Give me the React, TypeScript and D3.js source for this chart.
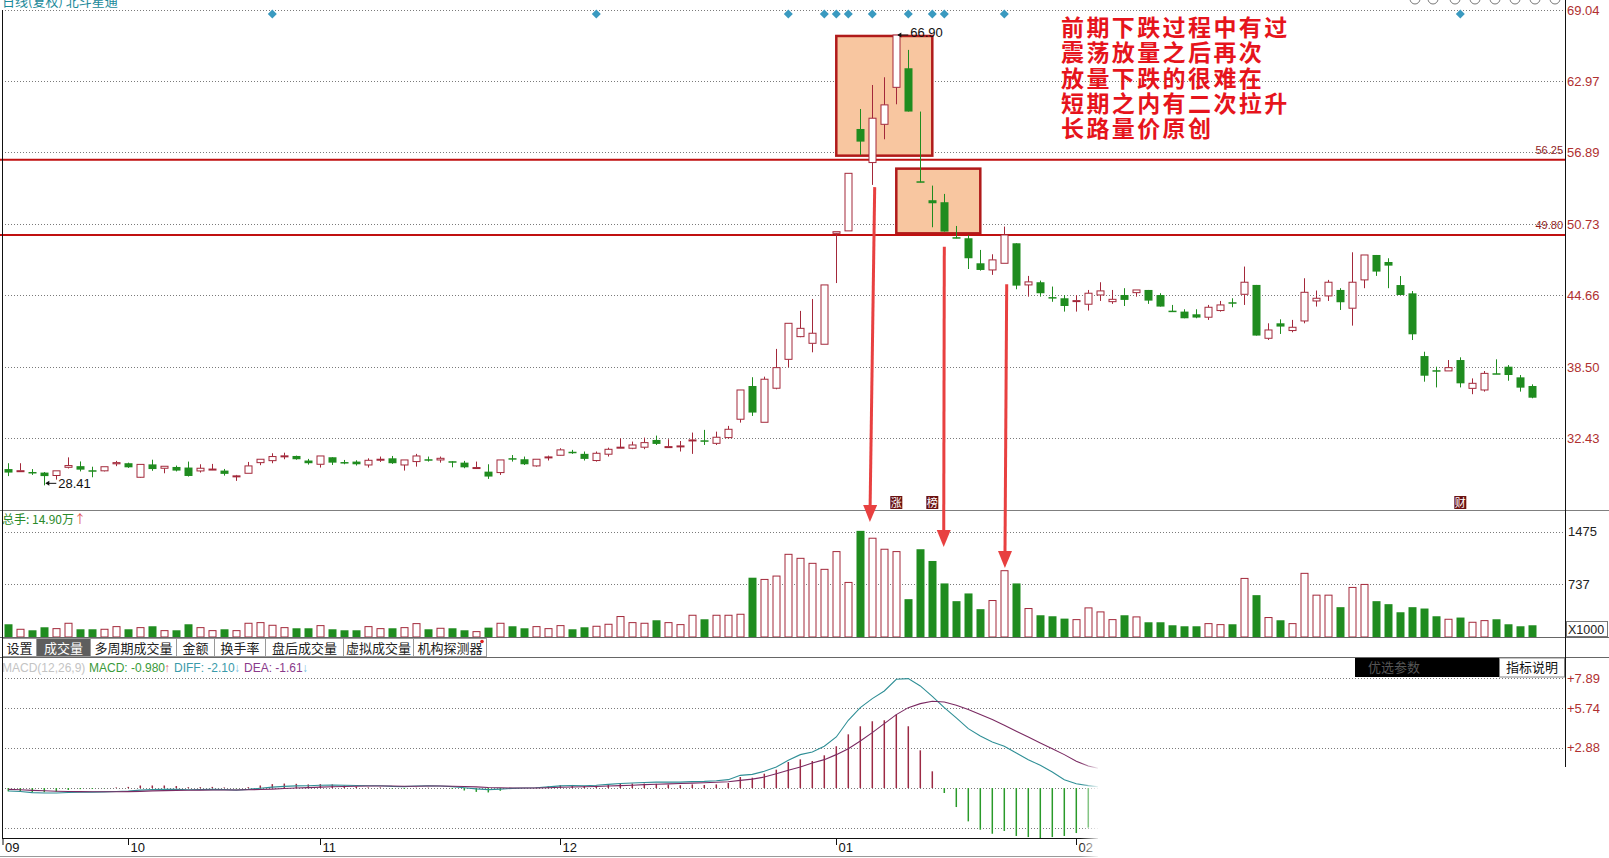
import React, { useEffect } from 'react';
import * as d3 from 'd3';

// ---------- DATA ----------
const opens = [
  29.8, 29.65, 29.55, 29.5, 29.25, 29.95, 30.05, 29.7, 29.65, 30.25,
  30.3, 29.1, 30.2, 29.87, 29.98, 29.93, 29.64, 29.78, 29.67, 29.2,
  29.44, 30.35, 30.52, 30.92, 30.92, 30.53, 30.21, 30.81, 30.4, 30.44,
  30.15, 30.6, 30.72, 30.15, 30.44, 30.64, 30.58, 30.47, 30.35, 29.92,
  29.58, 29.5, 30.73, 30.64, 30.07, 30.81, 30.98, 31.28, 31.1, 30.53,
  31.07, 31.64, 31.58, 31.67, 32.29, 31.7, 31.75, 32.27, 32.26, 32.0,
  32.49, 34.06, 36.9, 33.8, 36.71, 39.18, 41.12, 40.55, 40.47, 49.95,
  50.16, 58.87, 56.0, 59.27, 62.43, 64.06, 54.4, 52.78, 52.61, 49.62,
  49.53, 47.39, 46.82, 47.39, 49.1, 45.54, 45.77, 44.5, 44.4, 44.17,
  43.89, 44.68, 44.11, 44.68, 44.88, 45.11, 44.68, 43.34, 43.26, 43.03,
  42.78, 43.35, 44.06, 44.74, 45.54, 40.98, 42.26, 41.64, 42.46, 44.17,
  44.6, 45.11, 43.55, 45.97, 48.1, 47.5, 45.53, 44.82, 39.46, 38.25,
  38.19, 39.12, 36.7, 36.56, 37.99, 38.55, 37.64, 36.9,
];
const highs = [
  30.3, 30.3, 29.8, 29.55, 29.65, 30.8, 30.45, 30.0, 30.0, 30.5,
  30.35, 30.2, 30.6, 30.04, 30.1, 30.44, 30.21, 30.24, 29.81, 29.3,
  30.41, 30.64, 31.15, 31.2, 30.95, 30.67, 30.92, 30.81, 30.58, 30.55,
  30.72, 30.87, 30.92, 30.58, 31.1, 30.87, 30.87, 30.47, 30.5, 30.44,
  30.21, 30.58, 31.0, 30.87, 30.64, 30.95, 31.58, 31.44, 31.3, 31.3,
  31.63, 32.43, 32.15, 32.49, 32.66, 32.35, 32.2, 32.92, 33.15, 33.0,
  33.49, 36.56, 37.65, 37.7, 40.07, 42.26, 43.32, 44.34, 45.54, 50.09,
  55.08, 60.58, 62.63, 63.29, 66.9, 65.63, 60.36, 54.03, 53.32, 50.58,
  49.81, 48.53, 48.16, 50.53, 49.1, 46.31, 45.91, 45.4, 44.68, 44.68,
  45.11, 45.77, 45.11, 45.26, 45.11, 45.11, 44.83, 43.83, 43.46, 43.46,
  43.83, 44.17, 44.4, 47.11, 45.54, 42.26, 42.6, 42.55, 46.11, 45.06,
  45.97, 45.26, 48.33, 48.1, 48.1, 47.82, 46.3, 45.02, 39.83, 38.55,
  39.12, 39.35, 37.55, 38.18, 39.18, 38.69, 37.84, 37.04,
];
const lows = [
  29.2, 29.62, 29.3, 28.41, 28.9, 29.85, 29.6, 29.1, 29.6, 30.05,
  29.9, 29.05, 29.65, 29.44, 29.6, 29.16, 29.5, 29.73, 29.24, 28.79,
  29.44, 30.13, 30.3, 30.64, 30.6, 30.18, 29.93, 30.15, 30.21, 30.1,
  29.93, 30.41, 30.24, 29.67, 30.01, 30.44, 30.35, 29.95, 29.87, 29.87,
  28.96, 29.3, 30.44, 30.15, 30.01, 30.53, 30.95, 31.1, 30.53, 30.44,
  30.87, 31.58, 31.5, 31.5, 31.86, 31.67, 31.3, 31.1, 31.86, 31.86,
  32.43, 33.77, 34.34, 33.8, 36.62, 38.5, 41.07, 39.78, 40.47, 45.7,
  50.16, 56.65, 54.09, 57.99, 60.98, 60.36, 54.32, 50.47, 50.1, 49.53,
  46.9, 46.76, 46.4, 47.39, 45.17, 44.54, 44.54, 44.1, 43.26, 43.26,
  43.35, 44.17, 43.92, 43.74, 44.54, 43.92, 43.69, 43.26, 42.69, 42.69,
  42.55, 43.26, 43.63, 43.83, 41.21, 40.84, 41.35, 41.49, 42.26, 43.69,
  44.17, 43.4, 42.06, 45.26, 46.31, 45.26, 44.68, 40.83, 37.27, 36.78,
  38.19, 36.78, 36.2, 36.42, 37.92, 37.35, 36.42, 35.85,
];
const closes = [
  29.5, 29.66, 29.5, 29.2, 29.65, 30.1, 29.75, 29.6, 30.0, 30.35,
  29.95, 30.2, 29.8, 30.04, 29.67, 29.21, 29.87, 29.8, 29.39, 29.22,
  30.07, 30.64, 30.87, 30.93, 30.64, 30.3, 30.92, 30.35, 30.38, 30.21,
  30.55, 30.64, 30.3, 30.58, 30.92, 30.6, 30.72, 30.44, 29.95, 29.93,
  29.16, 30.58, 30.7, 30.21, 30.64, 30.84, 31.44, 31.25, 30.67, 31.15,
  31.49, 31.67, 31.86, 32.06, 31.95, 31.72, 31.78, 32.29, 32.23, 32.52,
  33.2, 36.56, 34.63, 37.48, 38.47, 42.26, 41.83, 41.41, 45.54, 50.09,
  55.08, 57.79, 59.79, 60.93, 66.9, 60.36, 54.35, 52.52, 50.1, 49.6,
  47.82, 46.82, 47.68, 49.81, 45.48, 45.8, 44.83, 44.48, 43.74, 44.2,
  44.83, 45.03, 44.31, 44.26, 45.11, 44.2, 43.69, 43.32, 42.69, 42.75,
  43.63, 43.83, 44.05, 45.77, 41.21, 41.69, 41.98, 41.92, 44.91, 44.4,
  45.77, 44.06, 45.77, 48.1, 46.68, 47.19, 44.68, 41.32, 37.78, 38.2,
  38.47, 37.13, 37.13, 37.98, 37.97, 37.84, 36.76, 35.9,
];
// volume in thousands of lots
const volumes = [
  178, 108, 94, 136, 117, 192, 108, 108, 108, 145,
  108, 131, 150, 89, 94, 178, 131, 89, 108, 89,
  192, 201, 164, 131, 122, 122, 159, 108, 94, 94,
  145, 117, 122, 131, 187, 108, 122, 122, 94, 75,
  131, 192, 150, 122, 145, 117, 159, 108, 136, 150,
  178, 286, 201, 192, 234, 201, 173, 304, 248, 304,
  304, 318, 829, 805, 852, 1156, 1100, 1030, 946, 1194,
  763, 1484, 1381, 1227, 1194, 529, 1227, 1063, 749, 501,
  609, 389, 510, 927, 749, 398, 304, 290, 257, 243,
  407, 351, 243, 304, 281, 206, 206, 164, 150, 150,
  187, 173, 178, 819, 585, 272, 234, 187, 890, 585,
  585, 417, 693, 735, 501, 459, 346, 417, 398, 290,
  248, 272, 206, 229, 248, 178, 150, 164,
];
const macdDiff = [
  -0.22, -0.25, -0.33, -0.36, -0.36, -0.32, -0.3, -0.3, -0.28, -0.25,
  -0.22, -0.15, -0.12, -0.1, -0.1, -0.13, -0.12, -0.1, -0.12, -0.15,
  -0.1, -0.02, 0.06, 0.12, 0.15, 0.16, 0.2, 0.22, 0.2, 0.18,
  0.16, 0.16, 0.12, 0.1, 0.14, 0.15, 0.14, 0.1, 0.02, -0.06,
  -0.12, -0.08, -0.03, 0.0, 0.02, 0.08, 0.15, 0.18, 0.16, 0.2,
  0.26, 0.32, 0.36, 0.4, 0.42, 0.42, 0.42, 0.46, 0.48, 0.52,
  0.6, 0.91, 0.98, 1.2, 1.51, 1.99, 2.4, 2.59, 3.0, 3.67,
  4.87, 5.78, 6.43, 6.98, 7.82, 7.87, 7.34, 6.59, 5.78, 5.04,
  4.27, 3.74, 3.31, 3.0, 2.52, 2.04, 1.63, 1.15, 0.6, 0.31,
  0.17, 0.07,
];
const macdDea = [
  -0.1, -0.13, -0.17, -0.2, -0.23, -0.25, -0.26, -0.27, -0.27, -0.27,
  -0.26, -0.24, -0.21, -0.19, -0.17, -0.16, -0.15, -0.14, -0.14, -0.14,
  -0.13, -0.11, -0.08, -0.04, 0.0, 0.03, 0.06, 0.09, 0.11, 0.13,
  0.14, 0.14, 0.14, 0.13, 0.13, 0.14, 0.14, 0.13, 0.11, 0.08,
  0.04, 0.02, 0.0, 0.0, 0.0, 0.02, 0.05, 0.07, 0.09, 0.11,
  0.14, 0.17, 0.2, 0.24, 0.27, 0.3, 0.32, 0.35, 0.38, 0.41,
  0.45, 0.55, 0.64, 0.79, 1.03, 1.27, 1.51, 1.8, 2.04, 2.4,
  2.83, 3.38, 3.98, 4.63, 5.28, 5.78, 6.07, 6.24, 6.19, 5.95,
  5.64, 5.28, 4.92, 4.51, 4.08, 3.67, 3.24, 2.83, 2.4, 1.92,
  1.58, 1.39,
];
const macdHist = [
  -0.24, -0.24, -0.3, -0.3, -0.26, -0.14, -0.08, -0.06, -0.02, 0.04,
  0.08, 0.18, 0.18, 0.18, 0.14, 0.06, 0.06, 0.08, 0.04, -0.02,
  0.06, 0.18, 0.28, 0.32, 0.3, 0.26, 0.28, 0.26, 0.18, 0.1,
  0.04, 0.04, -0.04, -0.06, 0.02, 0.02, 0.0, -0.06, -0.18, -0.28,
  -0.32, -0.2, -0.06, 0.0, 0.04, 0.12, 0.2, 0.22, 0.14, 0.18,
  0.24, 0.3, 0.32, 0.32, 0.3, 0.24, 0.2, 0.26, 0.22, 0.26,
  0.36, 0.79, 0.74, 1.03, 1.32, 1.87, 2.06, 1.94, 2.35, 3.0,
  3.86, 4.44, 4.8, 4.87, 5.28, 4.44, 2.71, 1.2, -0.36, -1.37,
  -2.4, -3.0, -3.29, -3.09, -3.45, -3.53, -3.65, -3.53, -3.45, -3.24,
  -2.85,
];
const priceTicks = [69.04, 62.97, 56.89, 50.73, 44.66, 38.5, 32.43];
const volTicks = [1475, 737];
const macdTicks = [7.89, 5.74, 2.88, 0, -2.88];
const macdTickLabels = ['+7.89', '+5.74', '+2.88'];
const monthIdx = [0, 10, 26, 46, 69, 89];
const monthLabels = ['09', '10', '11', '12', '01', '02'];
const markerIdx = [22, 49, 65, 68, 69, 70, 72, 75, 77, 78, 83, 121];
const levelLines = [56.25, 49.8];
const badgeIdx = [74, 77, 121];
const badgeText = ['涨', '榜', '财'];
const boxIdxFrom = [69, 74];
const boxIdxTo = [77, 81];
const boxPriceTop = [66.82, 55.48];
const boxPriceBottom = [56.59, 49.95];
const arrowFromIdx = [72.2, 78.0, 83.2];
const arrowFromPrice = [53.9, 48.8, 45.6];
const arrowToIdx = [71.8, 77.95, 83.05];
const arrowToVol = [1608, 1259, 965];
const noteLines = [
  '前期下跌过程中有过',
  '震荡放量之后再次',
  '放量下跌的很难在',
  '短期之内有二次拉升',
  '长路量价原创',
];
const tabLabels = ['设置', '成交量', '多周期成交量', '金额', '换手率', '盘后成交量', '虚拟成交量', '机构探测器'];
const tabWidths = [34, 54, 86, 38, 51, 78, 70, 73];
const macdHeadText = ['MACD(12,26,9)', 'MACD: -0.980', '↑', 'DIFF: -2.10', '↓', 'DEA: -1.61', '↓'];
const macdHeadX = [2, 89, 164, 174, 234, 244, 302];
const macdHeadColor = ['#c4c4c4', '#3a9a3a', '#e06a6a', '#3a9aaa', '#7ac0e0', '#8a3a8a', '#7ac0e0'];
const highMark = { idx: 74, value: 66.9 };
const lowMark = { idx: 3, value: 28.41 };

const UP = '#a3283a';
const DOWN = '#1f8c1f';
const NUM = 'Liberation Sans, Arial, sans-serif';
const CJK = 'Noto Sans CJK SC, sans-serif';

export default function App() {
  useEffect(() => {
    document.body.style.margin = '0';
    document.body.style.overflow = 'hidden';
  }, []);

  const n = opens.length;
  const x = d3.scaleLinear().domain([0, n - 1]).range([8.3, 8.3 + 12 * (n - 1)]);
  const yP = d3.scaleLinear().domain([32.43, 69.04]).range([438.3, 10]);
  const yV = d3.scaleLinear().domain([0, 1475]).range([637, 531.5]);
  const yM = d3.scaleLinear().domain([0, 7.89]).range([788, 678.3]);
  const bw = 8;
  const axisX = 1565;
  const leftX = 2;

  const diffLine = d3.line<number>().x((_, i) => x(i)).y((d) => yM(d));
  const deaLine = d3.line<number>().x((_, i) => x(i)).y((d) => yM(d));

  const tabX: number[] = [];
  tabWidths.reduce((acc, w) => { tabX.push(acc); return acc + w; }, 2);

  return (
    <svg width={1609} height={858} style={{ position: 'fixed', left: 0, top: 0, background: '#fff' }}>
      <defs>
        <linearGradient id="axfade" x1="0" y1="0" x2="0" y2="1">
          <stop offset="0" stopColor="#000" />
          <stop offset="1" stopColor="#fff" />
        </linearGradient>
        <linearGradient id="wfade" x1="0" y1="0" x2="1" y2="0">
          <stop offset="0" stopColor="#fff" stopOpacity="0" />
          <stop offset="1" stopColor="#fff" stopOpacity="1" />
        </linearGradient>
      </defs>
      <rect x={0} y={0} width={1609} height={858} fill="#fff" />

      {/* header (partly cut off at the top, as in the source) */}
      <text x={2} y={6} fontSize={13} fill="#1b8a9a" fontFamily={CJK}>日线(复权) 北斗星通</text>
      {[1415, 1433, 1455, 1475, 1495, 1515, 1535, 1555].map((cx, k) => (
        <circle key={k} cx={cx} cy={-1} r={5} fill="none" stroke="#777" strokeWidth={1} />
      ))}

      {/* price gridlines */}
      {priceTicks.map((t) => (
        <g key={t}>
          <line x1={leftX} x2={axisX} y1={Math.round(yP(t)) + 0.5} y2={Math.round(yP(t)) + 0.5} stroke="#7a7a7a" strokeDasharray="1 2" />
          <text x={axisX + 2} y={yP(t) + 4.5} fontSize={13} fill="#b03030" fontFamily={NUM}>{t.toFixed(2)}</text>
        </g>
      ))}

      {/* annotation boxes */}
      {boxIdxFrom.map((f, k) => (
        <rect key={k} x={x(f)} y={yP(boxPriceTop[k])} width={x(boxIdxTo[k]) - x(f)}
          height={yP(boxPriceBottom[k]) - yP(boxPriceTop[k])} fill="#f8c6a0" stroke="#b01a1a" strokeWidth={2.5} />
      ))}

      {/* level lines */}
      {levelLines.map((v) => (
        <g key={v}>
          <line x1={0} x2={axisX} y1={yP(v)} y2={yP(v)} stroke="#c01010" strokeWidth={2} />
          <text x={axisX - 2} y={yP(v) - 6} fontSize={11} textAnchor="end" fill="#8e1c1c" fontFamily={NUM}>{v.toFixed(2)}</text>
        </g>
      ))}

      {/* markers */}
      {markerIdx.map((i) => {
        const cx = x(i), cy = 14;
        return <polygon key={i} points={`${cx},${cy - 4.5} ${cx + 4.5},${cy} ${cx},${cy + 4.5} ${cx - 4.5},${cy}`} fill="#3a9ac0" />;
      })}

      {/* candles */}
      {opens.map((o, i) => {
        const c = closes[i], h = highs[i], l = lows[i];
        const up = c >= o;
        const cx = Math.round(x(i)) + 0.5;
        const top = yP(Math.max(o, c)), bot = yP(Math.min(o, c));
        const bh = Math.max(1, bot - top);
        if (up) {
          return (
            <g key={i}>
              <line x1={cx} x2={cx} y1={yP(h)} y2={top} stroke={UP} />
              <line x1={cx} x2={cx} y1={top + bh} y2={yP(l)} stroke={UP} />
              <rect x={cx - bw / 2 + 0.5} y={top} width={bw - 1} height={bh} fill="#fff" stroke={UP} strokeWidth={1} />
            </g>
          );
        }
        return (
          <g key={i}>
            <line x1={cx} x2={cx} y1={yP(h)} y2={yP(l)} stroke={DOWN} />
            <rect x={cx - bw / 2} y={top} width={bw} height={Math.max(1.5, bh)} fill={DOWN} />
          </g>
        );
      })}

      {/* high / low marks */}
      <g fontFamily={NUM} fontSize={13} fill="#111">
        <line x1={x(highMark.idx) + 2} x2={x(highMark.idx) + 12} y1={yP(highMark.value)} y2={yP(highMark.value)} stroke="#111" />
        <polygon points={`${x(highMark.idx) + 1},${yP(highMark.value)} ${x(highMark.idx) + 5},${yP(highMark.value) - 2.5} ${x(highMark.idx) + 5},${yP(highMark.value) + 2.5}`} fill="#111" />
        <text x={x(highMark.idx) + 14} y={yP(highMark.value) + 2}>{highMark.value.toFixed(2)}</text>
        <line x1={x(lowMark.idx) + 2} x2={x(lowMark.idx) + 12} y1={yP(lowMark.value) - 2} y2={yP(lowMark.value) - 2} stroke="#111" />
        <polygon points={`${x(lowMark.idx) + 1},${yP(lowMark.value) - 2} ${x(lowMark.idx) + 5},${yP(lowMark.value) - 4.5} ${x(lowMark.idx) + 5},${yP(lowMark.value) + 0.5}`} fill="#111" />
        <text x={x(lowMark.idx) + 14} y={yP(lowMark.value) + 2.5}>{lowMark.value.toFixed(2)}</text>
      </g>

      {/* badges */}
      {badgeIdx.map((i, k) => (
        <g key={i}>
          <rect x={x(i) - 6} y={496} width={12} height={13} fill="#6a1212" />
          <text x={x(i)} y={506.5} fontSize={11} textAnchor="middle" fill="#fff" fontFamily={CJK}>{badgeText[k]}</text>
        </g>
      ))}

      {/* note text: one text block, one line per tspan */}
      <text x={1061} y={36} fontSize={23} letterSpacing={2.4} fontWeight={700} fill="#e6141c" fontFamily={CJK}>
        {noteLines.map((s, k) => (
          <tspan key={k} x={1061} dy={k === 0 ? 0 : 25.3}>{s}</tspan>
        ))}
      </text>

      <line x1={0} x2={1609} y1={510.5} y2={510.5} stroke="#7f7f7f" />

      {/* volume panel */}
      <text y={524} fontSize={12} fontFamily={CJK}>
        <tspan x={2} fill="#2a8a2a">总手</tspan>
        <tspan fill="#2a8a2a">: 14.90万</tspan>
        <tspan fill="#e05050">↑</tspan>
      </text>
      {volTicks.map((t) => (
        <g key={t}>
          <line x1={leftX} x2={axisX} y1={Math.round(yV(t)) + 0.5} y2={Math.round(yV(t)) + 0.5} stroke="#7a7a7a" strokeDasharray="1 2" />
          <text x={axisX + 3} y={yV(t) + 4.5} fontSize={13} fill="#222" fontFamily={NUM}>{t}</text>
        </g>
      ))}
      <rect x={axisX + 1.5} y={621.5} width={41} height={15} fill="#fff" stroke="#777" />
      <text x={axisX + 3} y={633.5} fontSize={12.5} fill="#222" fontFamily={NUM}>X1000</text>
      {volumes.map((v, i) => {
        const up = closes[i] >= opens[i];
        const cx = Math.round(x(i)) + 0.5;
        const yt = yV(v);
        return up ? (
          <rect key={i} x={cx - bw / 2 + 0.5} y={yt} width={bw - 1} height={yV(0) - yt} fill="#fff" stroke={UP} />
        ) : (
          <rect key={i} x={cx - bw / 2} y={yt} width={bw} height={yV(0) - yt} fill={DOWN} />
        );
      })}

      {/* arrows */}
      {arrowFromIdx.map((fi, k) => {
        const x1 = x(fi), y1 = yP(arrowFromPrice[k]), x2 = x(arrowToIdx[k]), y2 = yV(arrowToVol[k]);
        const ang = Math.atan2(y2 - y1, x2 - x1);
        const hl = 17, hw = 7;
        const bx = x2 - hl * Math.cos(ang), by = y2 - hl * Math.sin(ang);
        const px = -Math.sin(ang) * hw, py = Math.cos(ang) * hw;
        return (
          <g key={k}>
            <line x1={x1} y1={y1} x2={bx} y2={by} stroke="#e84040" strokeWidth={3} />
            <polygon points={`${x2},${y2} ${bx + px},${by + py} ${bx - px},${by - py}`} fill="#e84040" />
          </g>
        );
      })}

      <line x1={0} x2={1609} y1={637.5} y2={637.5} stroke="#666" />

      {/* tabs */}
      {tabLabels.map((s, k) => {
        const sel = k === 1;
        return (
          <g key={s}>
            <rect x={tabX[k] + 0.5} y={638.5} width={tabWidths[k]} height={18} fill={sel ? '#5e5e5e' : '#fff'} stroke="#9a9a9a" />
            <text x={tabX[k] + tabWidths[k] / 2 + 0.5} y={652.5} fontSize={13} textAnchor="middle" fill={sel ? '#fff' : '#222'} fontFamily={CJK}>{s}</text>
          </g>
        );
      })}
      <circle cx={tabX[7] + tabWidths[7] - 4} cy={641.5} r={1.8} fill="#e02020" />
      <line x1={0} x2={1609} y1={657.5} y2={657.5} stroke="#666" />
      <rect x={1355} y={658} width={144} height={19} fill="#000" />
      <text x={1368} y={672} fontSize={13} fill="#555" fontFamily={CJK}>优选参数</text>
      <rect x={1499.5} y={658} width={65} height={19} fill="#fff" stroke="#888" />
      <text x={1506} y={672} fontSize={13} fill="#111" fontFamily={CJK}>指标说明</text>

      {/* MACD panel */}
      <g fontSize={12} fontFamily={NUM}>
        {macdHeadText.map((s, k) => (
          <text key={k} x={macdHeadX[k]} y={672} fill={macdHeadColor[k]}>{s}</text>
        ))}
      </g>
      {macdTicks.map((t) => (
        <line key={t} x1={leftX} x2={t > 1 ? axisX : 1098} y1={Math.round(yM(t)) + 0.5} y2={Math.round(yM(t)) + 0.5} stroke="#7a7a7a" strokeDasharray="1 2" />
      ))}
      {macdTickLabels.map((s, k) => (
        <text key={s} x={axisX + 2} y={yM(macdTicks[k]) + 4.5} fontSize={13} fill="#b03030" fontFamily={NUM}>{s}</text>
      ))}
      {macdHist.map((h, i) => (
        <line key={i} x1={x(i)} x2={x(i)} y1={yM(0)} y2={yM(h)} stroke={h >= 0 ? '#9c2a44' : '#2a9a2a'} strokeWidth={1.5} />
      ))}
      <path d={diffLine(macdDiff) || ''} fill="none" stroke="#2f8f96" strokeWidth={1.1} />
      <path d={deaLine(macdDea) || ''} fill="none" stroke="#7a2a62" strokeWidth={1.1} />

      {/* date axis */}
      <line x1={leftX} x2={1098} y1={838.5} y2={838.5} stroke="#111" />
      {monthIdx.map((i, k) => {
        const tx = i === 0 ? 3 : Math.round(x(i)) + 0.5;
        return (
          <g key={i}>
            <line x1={tx} x2={tx} y1={838} y2={845} stroke="#111" />
            <text x={tx + 2} y={852} fontSize={13} fill="#111" fontFamily={NUM}>{monthLabels[k]}</text>
          </g>
        );
      })}
      <line x1={0} x2={1098} y1={856.5} y2={856.5} stroke="#999" />

      {/* erased lower-right region */}
      <rect x={1080} y={752} width={20} height={106} fill="url(#wfade)" />
      <rect x={1098} y={752} width={511} height={106} fill="#fff" />

      {/* frame */}
      <line x1={leftX + 0.5} x2={leftX + 0.5} y1={10} y2={838} stroke="#111" />
      <line x1={axisX + 0.5} x2={axisX + 0.5} y1={0} y2={767} stroke="#111" />
      <line x1={axisX + 0.5} x2={axisX + 0.5} y1={767} y2={858} stroke="url(#axfade)" strokeOpacity={0.35} />
    </svg>
  );
}
